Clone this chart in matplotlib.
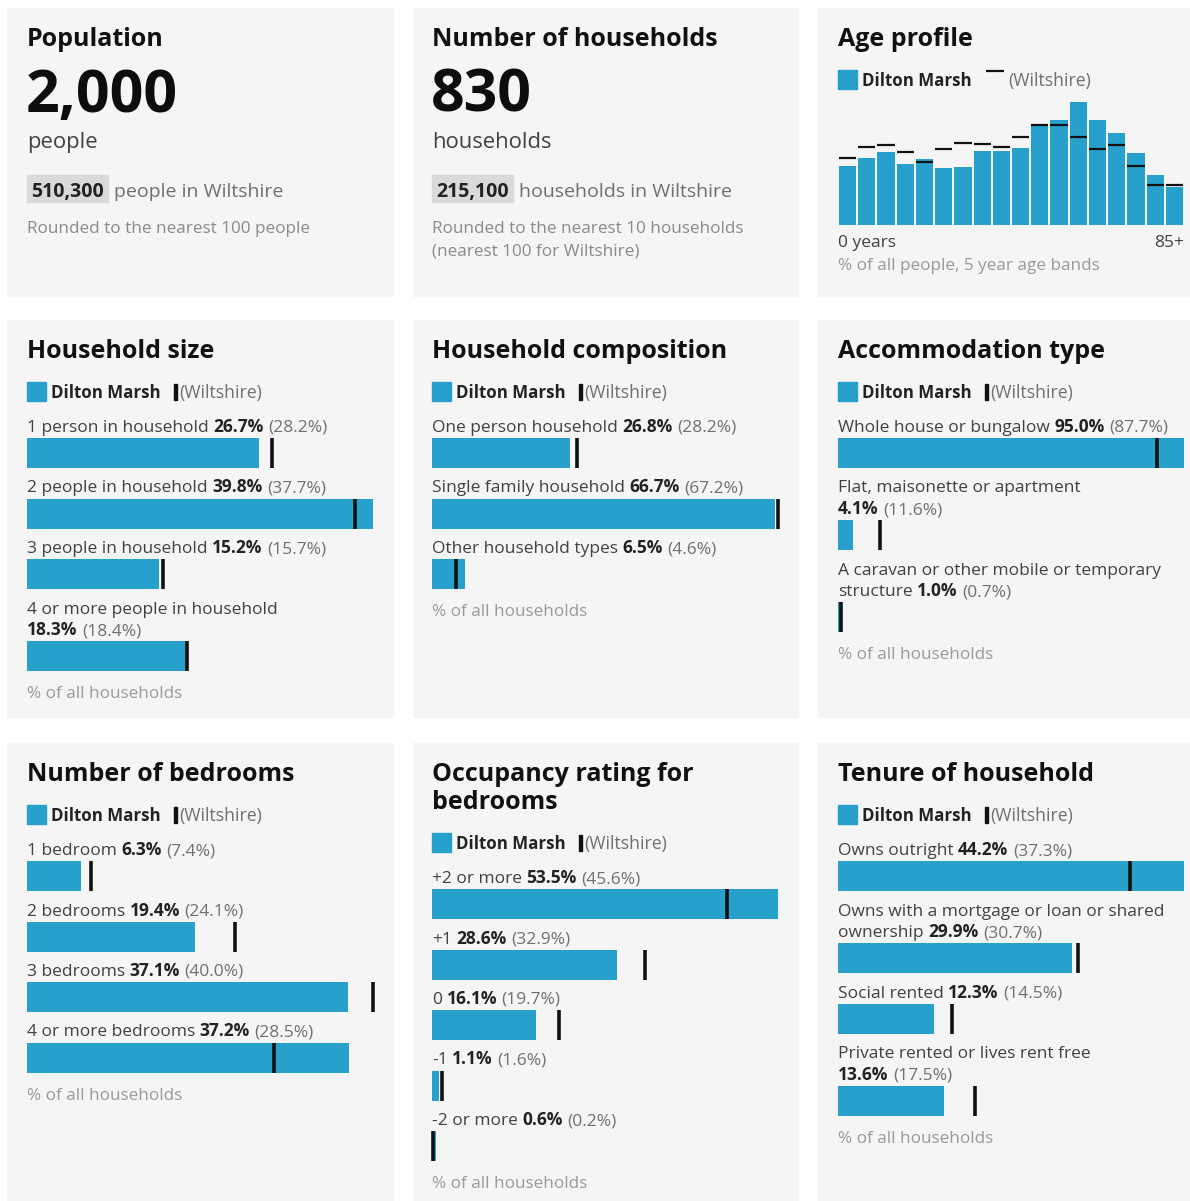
import matplotlib
matplotlib.use("Agg")
import matplotlib.pyplot as plt
from matplotlib.patches import Rectangle

# ---------------------------------------------------------------------------
# Data
# ---------------------------------------------------------------------------
AREA = "Dilton Marsh"
REGION = "Wiltshire"

population = "2,000"
population_region = "510,300"
households = "830"
households_region = "215,100"

# 5-year age bands, 0 years ... 85+  (% of all people)
age_local = [4.4, 5.0, 5.4, 4.5, 4.9, 4.2, 4.3, 5.5, 5.5, 5.7,
             7.5, 7.8, 9.1, 7.8, 6.8, 5.3, 3.7, 2.8]
age_region = [5.0, 5.8, 5.9, 5.4, 4.7, 5.6, 6.1, 6.0, 5.8, 6.5,
              7.4, 7.4, 6.5, 5.6, 5.9, 4.4, 3.0, 3.0]

size_labels = ["1 person in household", "2 people in household",
               "3 people in household", "4 or more people in household\n"]
size_local = [26.7, 39.8, 15.2, 18.3]
size_region = [28.2, 37.7, 15.7, 18.4]

comp_labels = ["One person household", "Single family household",
               "Other household types"]
comp_local = [26.8, 66.7, 6.5]
comp_region = [28.2, 67.2, 4.6]

accom_labels = ["Whole house or bungalow", "Flat, maisonette or apartment\n",
                "A caravan or other mobile or temporary\nstructure"]
accom_local = [95.0, 4.1, 1.0]
accom_region = [87.7, 11.6, 0.7]

bed_labels = ["1 bedroom", "2 bedrooms", "3 bedrooms", "4 or more bedrooms"]
bed_local = [6.3, 19.4, 37.1, 37.2]
bed_region = [7.4, 24.1, 40.0, 28.5]

occ_labels = ["+2 or more", "+1", "0", "-1", "-2 or more"]
occ_local = [53.5, 28.6, 16.1, 1.1, 0.6]
occ_region = [45.6, 32.9, 19.7, 1.6, 0.2]

ten_labels = ["Owns outright", "Owns with a mortgage or loan or shared\nownership",
              "Social rented", "Private rented or lives rent free\n"]
ten_local = [44.2, 29.9, 12.3, 13.6]
ten_region = [37.3, 30.7, 14.5, 17.5]

# ---------------------------------------------------------------------------
# Style / layout (pixels)
# ---------------------------------------------------------------------------
W, H, DPI = 1190, 1201, 100
BLUE = "#27a0cc"
PANEL = "#f5f5f6"
INK = "#111111"
TEXT = "#414042"
GREY = "#707070"
LIGHT = "#8a8a8a"
FOOT = "#9a9a9a"

COLS = [(7, 393), (413, 798), (818, 1192)]
ROWS = [(8, 296), (320, 717), (743, 1203)]
TX = [27, 432, 838]
BAR_W = 346

FS_TITLE = 18
FS_BIG = 42.5
FS_UNIT = 15.8
FS_REG = 14
FS_NOTE = 12.3
FS_LEG_B = 12.2
FS_LEG = 12.7
FS_LAB = 12.5
FS_FOOT = 12.3

plt.rcParams["font.family"] = ["Open Sans", "DejaVu Sans"]

fig = plt.figure(figsize=(W / DPI, H / DPI), dpi=DPI)
fig.patch.set_facecolor("white")
ov = fig.add_axes([0, 0, 1, 1], zorder=0)
ov.set_xlim(0, W)
ov.set_ylim(H, 0)
ov.axis("off")
renderer = fig.canvas.get_renderer()


def txt(x, y, s, fs, weight="normal", color=INK, ha="left"):
    t = ov.text(x, y, s, fontsize=fs, fontweight=weight, color=color,
                ha=ha, va="baseline", zorder=5)
    return t


def width(t):
    return t.get_window_extent(renderer=renderer).width


def space(fs):
    a = txt(0, -100, "n n", fs)
    b = txt(0, -100, "nn", fs)
    w = width(a) - width(b)
    a.remove()
    b.remove()
    return w


for (c0, c1) in COLS:
    for (r0, r1) in ROWS:
        ov.add_patch(Rectangle((c0, r0), c1 - c0, r1 - r0, color=PANEL, zorder=1))


def headline(col, title, big, unit, reg_val, reg_unit, notes):
    x0, top = TX[col], ROWS[0][0]
    txt(x0, top + 38, title, FS_TITLE, "bold")
    txt(x0 - 1, top + 104, big, FS_BIG, "bold", "#0d0d0d")
    txt(x0, top + 140, unit, FS_UNIT, color=TEXT)
    t = txt(x0 + 4, top + 189, reg_val, FS_REG, "bold", "#222222")
    bw = width(t) + 8
    ov.add_patch(Rectangle((x0, top + 167), bw, 27, color="#dadada", zorder=2))
    txt(x0 + bw + 6, top + 189, reg_unit, FS_REG, color=GREY)
    for i, n in enumerate(notes):
        txt(x0, top + 225 + 22 * i, n, FS_NOTE, color=LIGHT)


def legend(x0, y, dash=False):
    ov.add_patch(Rectangle((x0, y - 16), 18.5, 19, color=BLUE, zorder=3))
    t = txt(x0 + 24, y, AREA, FS_LEG_B, "bold", "#222222")
    xe = x0 + 24 + width(t)
    if dash:
        ov.plot([xe + 14, xe + 32], [y - 15, y - 15], color=INK, lw=1.6,
                solid_capstyle="butt", zorder=4)
        txt(xe + 37, y, f"({REGION})", FS_LEG, color=GREY)
    else:
        ov.add_patch(Rectangle((xe + 13, y - 14), 3.2, 16, color=INK, zorder=4))
        txt(xe + 19, y, f"({REGION})", FS_LEG, color=GREY)


def bar_panel(col, row, title, labels, local, region):
    x0, top = TX[col], ROWS[row][0]
    y = top + 38
    tl = title.split("\n")
    for i, s in enumerate(tl):
        txt(x0, y, s, FS_TITLE, "bold")
        if i < len(tl) - 1:
            y += 28
    y += 40
    legend(x0, y)
    y += 34
    sp = space(FS_LAB)
    bax = fig.add_axes([x0 / W, 0, BAR_W / W, 1], zorder=3)
    bax.set_xlim(0, max(local + region))
    bax.set_ylim(H, 0)
    bax.axis("off")
    for lab, v, r in zip(labels, local, region):
        lines = lab.split("\n")
        for j, ln in enumerate(lines):
            if j < len(lines) - 1:
                txt(x0, y, ln, FS_LAB, color=TEXT)
                y += 21.7
            else:
                x = x0
                if ln:
                    t = txt(x, y, ln, FS_LAB, color=TEXT)
                    x += width(t) + sp
                t = txt(x, y, f"{v:.1f}%", FS_LAB, "bold", "#222222")
                x += width(t) + sp
                txt(x, y, f"({r:.1f}%)", FS_LAB, color=GREY)
        bt = y + 6
        bax.barh(bt + 15, v, height=30, color=BLUE, zorder=2)
        bax.plot([r, r], [bt, bt + 30], color=INK, lw=2.6,
                 solid_capstyle="butt", clip_on=False, zorder=3)
        y = bt + 30 + 24.5
    txt(x0, y + 2.5, "% of all households", FS_FOOT, color=FOOT)


# --- row 1 -----------------------------------------------------------------
headline(0, "Population", population, "people", population_region,
         "people in Wiltshire", ["Rounded to the nearest 100 people"])
headline(1, "Number of households", households, "households", households_region,
         "households in Wiltshire",
         ["Rounded to the nearest 10 households", "(nearest 100 for Wiltshire)"])

x0, top = TX[2], ROWS[0][0]
txt(x0, top + 38, "Age profile", FS_TITLE, "bold")
legend(x0, 86, dash=True)
aax = fig.add_axes([x0 / W, 1 - 225 / H, BAR_W / W, 125 / H], zorder=3)
n = len(age_local)
aax.bar(range(n), age_local, width=0.9, color=BLUE, zorder=2)
aax.hlines(age_region, [i - 0.45 for i in range(n)], [i + 0.45 for i in range(n)],
           color=INK, lw=1.6, zorder=3)
aax.set_xlim(-0.5, n - 0.5)
aax.set_ylim(0, 125 / 13.5)
aax.axis("off")
txt(x0, 247, "0 years", FS_LAB, color=TEXT)
txt(x0 + BAR_W, 247, "85+", FS_LAB, color=TEXT, ha="right")
txt(x0, 270, "% of all people, 5 year age bands", FS_FOOT, color=FOOT)

# --- rows 2 and 3 ------------------------------------------------------------
bar_panel(0, 1, "Household size", size_labels, size_local, size_region)
bar_panel(1, 1, "Household composition", comp_labels, comp_local, comp_region)
bar_panel(2, 1, "Accommodation type", accom_labels, accom_local, accom_region)
bar_panel(0, 2, "Number of bedrooms", bed_labels, bed_local, bed_region)
bar_panel(1, 2, "Occupancy rating for\nbedrooms", occ_labels, occ_local, occ_region)
bar_panel(2, 2, "Tenure of household", ten_labels, ten_local, ten_region)

fig.savefig("out.png", dpi=DPI, facecolor="white")
